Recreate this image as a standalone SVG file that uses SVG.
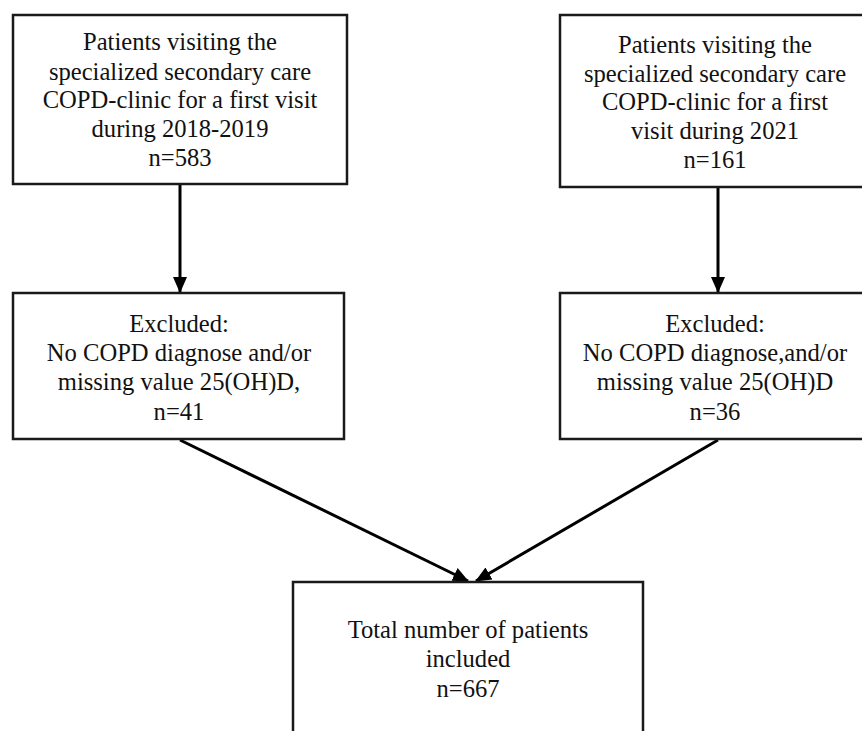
<svg xmlns="http://www.w3.org/2000/svg" width="862" height="731" viewBox="0 0 862 731">
<style>
.box{fill:#fff;stroke:#1a1a1a;stroke-width:2.5}
.t{font-family:"Liberation Serif","Times New Roman",serif;font-size:24.6px;fill:#111;text-anchor:middle}
.c{stroke:#000;stroke-width:3;fill:none}
</style>
<defs>
<marker id="ah" markerUnits="userSpaceOnUse" markerWidth="16" markerHeight="16" viewBox="0 0 16 16" refX="15" refY="8" orient="auto">
<path d="M0,1 L16,8 L0,15 Z" fill="#000"/>
</marker>
</defs>
<rect width="862" height="731" fill="#fff"/>
<g id="connectors">
<line class="c" x1="180" y1="185" x2="180" y2="292" marker-end="url(#ah)"/>
<line class="c" x1="718" y1="188" x2="718" y2="292" marker-end="url(#ah)"/>
<line class="c" x1="180" y1="440" x2="468" y2="581" marker-end="url(#ah)"/>
<line class="c" x1="718" y1="440" x2="476" y2="581" marker-end="url(#ah)"/>
</g>
<g id="box1">
<rect class="box" x="13" y="15" width="334" height="169"/>
<text class="t" x="180" y="50">Patients visiting  the</text>
<text class="t" x="180" y="80">specialized  secondary care</text>
<text class="t" x="180" y="108">COPD-clinic  for a first visit</text>
<text class="t" x="180" y="137">during  2018-2019</text>
<text class="t" x="180" y="166">n=583</text>
</g>
<g id="box2">
<rect class="box" x="560" y="15" width="314" height="172"/>
<text class="t" x="715" y="53">Patients visiting  the</text>
<text class="t" x="715" y="82">specialized  secondary care</text>
<text class="t" x="715" y="110">COPD-clinic  for a first</text>
<text class="t" x="715" y="139">visit  during  2021</text>
<text class="t" x="715" y="168">n=161</text>
</g>
<g id="box3">
<rect class="box" x="13" y="293" width="331" height="146"/>
<text class="t" x="179" y="332">Excluded:</text>
<text class="t" x="179" y="361">No COPD diagnose and/or</text>
<text class="t" x="179" y="390">missing  value  25(OH)D,</text>
<text class="t" x="179" y="420">n=41</text>
</g>
<g id="box4">
<rect class="box" x="560" y="293" width="314" height="146"/>
<text class="t" x="715" y="332">Excluded:</text>
<text class="t" x="715" y="361">No COPD diagnose,and/or</text>
<text class="t" x="715" y="390">missing  value  25(OH)D</text>
<text class="t" x="715" y="420">n=36</text>
</g>
<g id="box5">
<rect class="box" x="293" y="582" width="350" height="170"/>
<text class="t" x="468" y="638">Total number  of patients</text>
<text class="t" x="468" y="667">included</text>
<text class="t" x="468" y="697">n=667</text>
</g>
</svg>
